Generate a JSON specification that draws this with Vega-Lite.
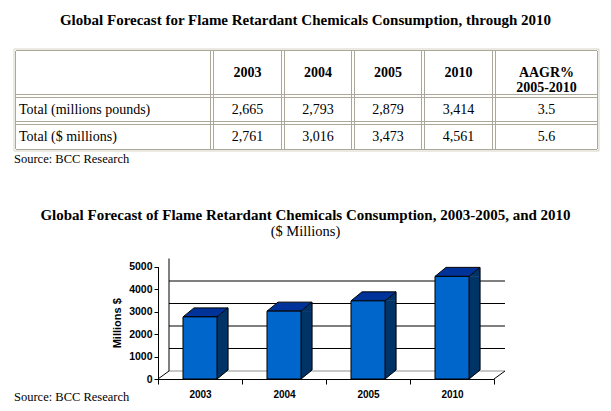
{
  "$schema": "https://vega.github.io/schema/vega-lite/v6.json",
  "width": 611,
  "height": 411,
  "autosize": {"type": "none"},
  "padding": 0,
  "background": "white",
  "config": {"view": {"stroke": null}},
  "datasets": {
    "chart": [
      {"year": "2003", "value": 2761},
      {"year": "2004", "value": 3016},
      {"year": "2005", "value": 3473},
      {"year": "2010", "value": 4561}
    ],
    "gridvals": [{"v": 1000}, {"v": 2000}, {"v": 3000}, {"v": 4000}],
    "header": [
      {"line": 1, "col": 1, "text": "2003"},
      {"line": 1, "col": 2, "text": "2004"},
      {"line": 1, "col": 3, "text": "2005"},
      {"line": 1, "col": 4, "text": "2010"},
      {"line": 1, "col": 5, "text": "AAGR%\n2005-2010"}
    ],
    "cells": [
      {"line": 2, "col": 1, "value": 2665},
      {"line": 2, "col": 2, "value": 2793},
      {"line": 2, "col": 3, "value": 2879},
      {"line": 2, "col": 4, "value": 3414},
      {"line": 2, "col": 5, "value": 3.5},
      {"line": 3, "col": 1, "value": 2761},
      {"line": 3, "col": 2, "value": 3016},
      {"line": 3, "col": 3, "value": 3473},
      {"line": 3, "col": 4, "value": 4561},
      {"line": 3, "col": 5, "value": 5.6}
    ],
    "labels": [
      {"line": 2, "col": 0, "text": "Total (millions pounds)"},
      {"line": 3, "col": 0, "text": "Total ($ millions)"}
    ],
    "sources": [
      {"line": 4, "col": -1, "text": "Source: BCC Research"},
      {"line": 7, "col": -1, "text": "Source: BCC Research"}
    ],
    "vedges": [{"e": 0}, {"e": 1}, {"e": 2}, {"e": 3}, {"e": 4}, {"e": 5}, {"e": 6}],
    "hedges": [{"e": 0}, {"e": 1}, {"e": 2}, {"e": 3}]
  },
  "layer": [
    {
      "layer": [
        {
          "data": {"name": "vedges"},
          "transform": [{"filter": "datum.e < 6"}],
          "mark": {"type": "rule", "color": "#ACA899", "strokeWidth": 1, "xOffset": 1.5, "yOffset": 2, "y2Offset": -2},
          "encoding": {
            "x": {"field": "e", "type": "quantitative", "scale": {"domain": [0, 1, 2, 3, 4, 5, 6], "range": [14, 212, 283, 353, 423, 494, 599], "zero": false, "nice": false}, "axis": null},
            "y": {"datum": 0, "type": "quantitative", "scale": {"domain": [0, 1, 2, 3], "range": [49, 96, 123, 151], "zero": false, "nice": false}, "axis": null},
            "y2": {"datum": 3}
          }
        },
        {
          "data": {"name": "vedges"},
          "transform": [{"filter": "datum.e > 0"}],
          "mark": {"type": "rule", "color": "#ACA899", "strokeWidth": 1, "xOffset": -1.5, "yOffset": 2, "y2Offset": -2},
          "encoding": {
            "x": {"field": "e", "type": "quantitative", "axis": null},
            "y": {"datum": 0, "type": "quantitative", "axis": null},
            "y2": {"datum": 3}
          }
        },
        {
          "data": {"name": "hedges"},
          "transform": [{"filter": "datum.e < 3"}],
          "mark": {"type": "rule", "color": "#ACA899", "strokeWidth": 1, "yOffset": 1.5, "xOffset": 2, "x2Offset": -2},
          "encoding": {
            "y": {"field": "e", "type": "quantitative", "axis": null},
            "x": {"datum": 0, "type": "quantitative", "axis": null},
            "x2": {"datum": 6}
          }
        },
        {
          "data": {"name": "hedges"},
          "transform": [{"filter": "datum.e > 0"}],
          "mark": {"type": "rule", "color": "#ACA899", "strokeWidth": 1, "yOffset": -1.5, "xOffset": 2, "x2Offset": -2},
          "encoding": {
            "y": {"field": "e", "type": "quantitative", "axis": null},
            "x": {"datum": 0, "type": "quantitative", "axis": null},
            "x2": {"datum": 6}
          }
        },
        {
          "data": {"name": "vedges"},
          "transform": [{"filter": "datum.e == 0 || datum.e == 6"}],
          "mark": {"type": "rule", "color": "#D6D3C6", "strokeWidth": 1},
          "encoding": {
            "x": {"field": "e", "type": "quantitative", "axis": null},
            "y": {"datum": 0, "type": "quantitative", "axis": null},
            "y2": {"datum": 3}
          }
        },
        {
          "data": {"name": "hedges"},
          "transform": [{"filter": "datum.e == 0 || datum.e == 3"}],
          "mark": {"type": "rule", "color": "#D6D3C6", "strokeWidth": 1},
          "encoding": {
            "y": {"field": "e", "type": "quantitative", "axis": null},
            "x": {"datum": 0, "type": "quantitative", "axis": null},
            "x2": {"datum": 6}
          }
        }
      ]
    },
    {
      "layer": [
        {
          "data": {"values": [{"line": 0, "text": "Global Forecast for Flame Retardant Chemicals Consumption, through 2010"}]},
          "mark": {"type": "text", "font": "Liberation Serif", "fontSize": 15, "fontWeight": "bold", "baseline": "middle", "color": "black"},
          "encoding": {
            "y": {"field": "line", "type": "quantitative", "scale": {"domain": [0, 1, 2, 3, 4, 5, 6, 7], "range": [20, 72.5, 110, 136.5, 159, 215, 232, 397], "zero": false, "nice": false}, "axis": null},
            "text": {"field": "text"}
          }
        },
        {
          "data": {"values": [{"line": 5, "text": "Global Forecast of Flame Retardant Chemicals Consumption, 2003-2005, and 2010"}]},
          "mark": {"type": "text", "font": "Liberation Serif", "fontSize": 15, "fontWeight": "bold", "baseline": "middle", "color": "black"},
          "encoding": {
            "y": {"field": "line", "type": "quantitative", "axis": null},
            "text": {"field": "text"}
          }
        },
        {
          "data": {"values": [{"line": 6, "text": "($ Millions)"}]},
          "mark": {"type": "text", "font": "Liberation Serif", "fontSize": 14.5, "baseline": "middle", "color": "black"},
          "encoding": {
            "y": {"field": "line", "type": "quantitative", "axis": null},
            "text": {"field": "text"}
          }
        },
        {
          "data": {"name": "header"},
          "mark": {"type": "text", "font": "Liberation Serif", "fontSize": 14, "fontWeight": "bold", "baseline": "middle", "align": "center", "lineBreak": "\n", "lineHeight": 15, "color": "black"},
          "encoding": {
            "x": {"field": "col", "type": "quantitative", "scale": {"domain": [-1, 0, 1, 2, 3, 4, 5], "range": [14, 19, 247.5, 318, 388, 458.5, 546.5], "zero": false, "nice": false}, "axis": null},
            "y": {"field": "line", "type": "quantitative", "axis": null},
            "text": {"field": "text"}
          }
        },
        {
          "data": {"name": "cells"},
          "mark": {"type": "text", "font": "Liberation Serif", "fontSize": 14, "baseline": "middle", "align": "center", "color": "black"},
          "encoding": {
            "x": {"field": "col", "type": "quantitative", "axis": null},
            "y": {"field": "line", "type": "quantitative", "axis": null},
            "text": {"field": "value", "type": "quantitative", "format": ",.1~f"}
          }
        },
        {
          "data": {"name": "labels"},
          "mark": {"type": "text", "font": "Liberation Serif", "fontSize": 14, "baseline": "middle", "align": "left", "color": "black"},
          "encoding": {
            "x": {"field": "col", "type": "quantitative", "axis": null},
            "y": {"field": "line", "type": "quantitative", "axis": null},
            "text": {"field": "text"}
          }
        },
        {
          "data": {"name": "sources"},
          "mark": {"type": "text", "font": "Liberation Serif", "fontSize": 12.5, "baseline": "middle", "align": "left", "color": "black"},
          "encoding": {
            "x": {"field": "col", "type": "quantitative", "axis": null},
            "y": {"field": "line", "type": "quantitative", "axis": null},
            "text": {"field": "text"}
          }
        }
      ]
    },
    {
      "layer": [
        {
          "data": {"name": "gridvals"},
          "mark": {"type": "rule", "color": "black", "strokeWidth": 1, "xOffset": 11, "x2Offset": 11, "yOffset": -8},
          "encoding": {
            "x": {
              "datum": "2003", "type": "nominal", "bandPosition": 0,
              "scale": {"type": "band", "domain": ["2003", "2004", "2005", "2010"], "range": [158, 494], "paddingInner": 0, "paddingOuter": 0},
              "axis": {"orient": "bottom", "offset": -32, "title": null, "labelAngle": 0, "tickBand": "extent", "tickSize": 5, "tickColor": "black", "domainColor": "black", "labelFont": "Liberation Sans", "labelFontWeight": "bold", "labelFontSize": 10, "labelColor": "black", "labelPadding": 5, "grid": false, "zindex": 2}
            },
            "x2": {"datum": "2010", "bandPosition": 1},
            "y": {
              "field": "v", "type": "quantitative",
              "scale": {"domain": [0, 5000], "range": [379, 266.5], "nice": false, "zero": true},
              "axis": {"orient": "left", "offset": -158, "values": [0, 1000, 2000, 3000, 4000, 5000], "format": "d", "grid": false, "tickSize": 4, "tickColor": "black", "domainColor": "black", "labelFont": "Liberation Sans", "labelFontWeight": "bold", "labelFontSize": 10.5, "labelColor": "black", "labelPadding": 2, "title": "Millions $", "titleFont": "Liberation Sans", "titleFontWeight": "bold", "titleFontSize": 11, "titleColor": "black", "titlePadding": 6, "zindex": 2}
            }
          }
        },
        {
          "data": {"values": [{"v": 0}]},
          "mark": {"type": "rule", "color": "#909090", "strokeWidth": 1, "xOffset": 11, "x2Offset": 11, "yOffset": -8},
          "encoding": {
            "x": {"datum": "2003", "type": "nominal", "bandPosition": 0},
            "x2": {"datum": "2010", "bandPosition": 1},
            "y": {"field": "v", "type": "quantitative"}
          }
        },
        {
          "data": {"values": [{"v": 0, "v2": 5000}]},
          "mark": {"type": "rule", "color": "black", "strokeWidth": 1, "xOffset": 11, "yOffset": -8, "y2Offset": -8},
          "encoding": {
            "x": {"datum": "2003", "type": "nominal", "bandPosition": 0},
            "y": {"field": "v", "type": "quantitative"},
            "y2": {"field": "v2"}
          }
        },
        {
          "data": {"values": [{"v": 0}]},
          "mark": {"type": "point", "shape": "M 0 0 L 11 -8", "size": 4, "filled": false, "stroke": "black", "strokeWidth": 1, "opacity": 1},
          "encoding": {
            "x": {"datum": "2003", "type": "nominal", "bandPosition": 0},
            "y": {"field": "v", "type": "quantitative"}
          }
        },
        {
          "data": {"values": [{"v": 0}]},
          "mark": {"type": "point", "shape": "M 0 0 L 11 -8", "size": 4, "filled": false, "stroke": "black", "strokeWidth": 1, "opacity": 1},
          "encoding": {
            "x": {"datum": "2010", "type": "nominal", "bandPosition": 1},
            "y": {"field": "v", "type": "quantitative"}
          }
        },
        {
          "data": {"name": "chart"},
          "mark": {"type": "bar", "width": {"band": 0.131}, "xOffset": 22.5, "y2Offset": -9, "fill": "#003366", "stroke": "#003366", "strokeWidth": 0.5},
          "encoding": {
            "x": {"field": "year", "type": "nominal"},
            "y": {"field": "value", "type": "quantitative"},
            "y2": {"datum": 0}
          }
        },
        {
          "data": {"name": "chart"},
          "mark": {"type": "point", "shape": "M 17 0 L 28 -9 L 28 0 Z", "size": 4, "filled": true, "fill": "#003366", "stroke": "#003366", "strokeWidth": 0.5, "opacity": 1},
          "encoding": {
            "x": {"field": "year", "type": "nominal"},
            "y": {"field": "value", "type": "quantitative"}
          }
        },
        {
          "data": {"name": "chart"},
          "mark": {"type": "point", "shape": "M 17 -9 L 17 0 L 28 -9 Z", "size": 4, "filled": true, "fill": "#003366", "stroke": "#003366", "strokeWidth": 0.5, "opacity": 1},
          "encoding": {
            "x": {"field": "year", "type": "nominal"},
            "y": {"datum": 0, "type": "quantitative"}
          }
        },
        {
          "data": {"name": "chart"},
          "mark": {"type": "point", "shape": "M 17 0 L 28 -9", "size": 4, "filled": false, "stroke": "black", "strokeWidth": 1, "opacity": 1},
          "encoding": {
            "x": {"field": "year", "type": "nominal"},
            "y": {"datum": 0, "type": "quantitative"}
          }
        },
        {
          "data": {"name": "chart"},
          "mark": {"type": "rule", "color": "black", "strokeWidth": 1, "xOffset": 28, "yOffset": -9, "y2Offset": -9},
          "encoding": {
            "x": {"field": "year", "type": "nominal"},
            "y": {"field": "value", "type": "quantitative"},
            "y2": {"datum": 0}
          }
        },
        {
          "data": {"name": "chart"},
          "mark": {"type": "point", "shape": "M -17 0 L 17 0 L 28 -9 L -6 -9 Z", "size": 4, "filled": true, "fill": "#003399", "stroke": "black", "strokeWidth": 1, "opacity": 1},
          "encoding": {
            "x": {"field": "year", "type": "nominal"},
            "y": {"field": "value", "type": "quantitative"}
          }
        },
        {
          "data": {"name": "chart"},
          "mark": {"type": "bar", "width": {"band": 0.405}, "fill": "#0066CC", "stroke": "black", "strokeWidth": 1},
          "encoding": {
            "x": {"field": "year", "type": "nominal"},
            "y": {"field": "value", "type": "quantitative"},
            "y2": {"datum": 0}
          }
        }
      ]
    }
  ],
  "resolve": {"scale": {"x": "independent", "y": "independent"}}
}
